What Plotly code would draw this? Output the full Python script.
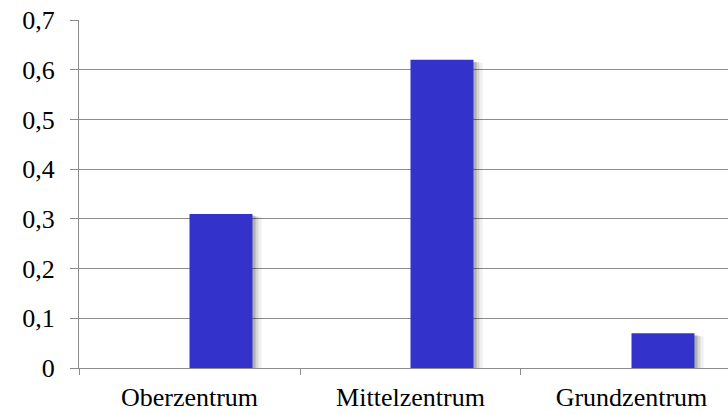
import plotly.graph_objects as go

categories = ["Oberzentrum", "Mittelzentrum", "Grundzentrum"]
values = [0.31, 0.62, 0.07]
y_ticks = [0, 0.1, 0.2, 0.3, 0.4, 0.5, 0.6, 0.7]
y_tick_labels = ["0", "0,1", "0,2", "0,3", "0,4", "0,5", "0,6", "0,7"]

BAR_W = 0.285
GRID = "#8c8c8c"
SERIF = "Liberation Serif"

fig = go.Figure()

# blurred drop shadow: a few stacked translucent copies of the bars
for dx, dy, alpha in [(0.041, 0.006, 0.06), (0.027, 0.005, 0.10), (0.014, 0.004, 0.18)]:
    fig.add_trace(go.Bar(
        x=categories, y=values, base=[-dy] * len(values),
        offset=dx, width=BAR_W,
        marker=dict(color=f"rgba(0,0,0,{alpha})", line=dict(width=0)),
        hoverinfo="skip", showlegend=False,
    ))

fig.add_trace(go.Bar(
    x=categories, y=values,
    offset=0, width=BAR_W,
    marker=dict(color="#3333cc", line=dict(width=0)),
    showlegend=False,
))

fig.update_layout(
    width=728, height=414,
    margin=dict(l=79, r=0, t=20, b=46, pad=0),
    plot_bgcolor="white", paper_bgcolor="white",
    barmode="overlay",
    font=dict(family=SERIF, size=26, color="black"),
)
fig.update_xaxes(
    range=[-0.5, 2.4367], automargin=False,
    showline=True, linecolor=GRID, linewidth=1,
    ticks="outside", tickson="boundaries", ticklen=6, tickcolor=GRID,
    tickfont=dict(family=SERIF, size=26, color="black"),
    ticklabelstandoff=6,
    showgrid=False, layer="above traces",
)
fig.update_yaxes(
    range=[0, 0.7], automargin=False,
    tickvals=y_ticks, ticktext=y_tick_labels,
    tickfont=dict(family=SERIF, size=26, color="black"),
    ticklabeloverflow="allow",
    showline=True, linecolor=GRID, linewidth=1,
    showgrid=True, gridcolor=GRID, gridwidth=1,
    ticks="outside", ticklen=8, tickcolor=GRID,
    ticklabelstandoff=10, zeroline=False,
)

# drop the default 8px page margin so the figure sits at the window corner
fig.write_html(
    "out.html",
    config={"displayModeBar": False},
    post_script="document.body.style.margin='0';",
)
